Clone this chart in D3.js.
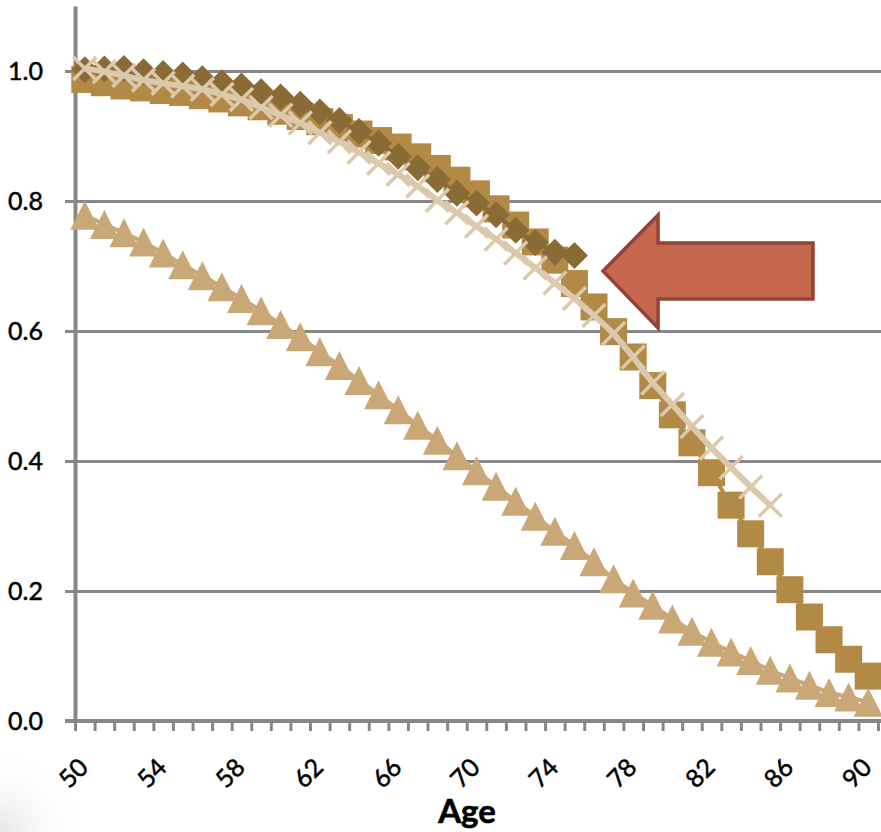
<!DOCTYPE html>
<html><head><meta charset="utf-8">
<script src="https://cdn.jsdelivr.net/npm/d3@7"></script>
<style>
body{margin:0;background:#fff}
svg{display:block}
text{font-family:Lato,"Open Sans",sans-serif}
</style>
</head><body>
<svg id="chart" width="881" height="832"></svg>
<script>
// ---------- data ----------
const ages = [50,51,52,53,54,55,56,57,58,59,60,61,62,63,64,65,66,67,68,69,70,
              71,72,73,74,75,76,77,78,79,80,81,82,83,84,85,86,87,88,89,90];
const squareValues = [0.987,0.982,0.977,0.974,0.970,0.967,0.962,0.957,0.951,0.945,
                      0.938,0.930,0.922,0.913,0.903,0.893,0.883,0.868,0.850,0.832,
                      0.811,0.788,0.763,0.737,0.709,0.673,0.637,0.599,0.560,0.516,
                      0.471,0.428,0.382,0.332,0.288,0.245,0.202,0.160,0.125,0.095,0.069];
const diamondValues = [1.002,1.003,1.004,0.999,0.996,0.994,0.988,0.982,0.977,0.968,
                       0.960,0.949,0.937,0.924,0.907,0.889,0.869,0.851,0.833,0.812,
                       0.797,0.779,0.755,0.736,0.721,0.716];
const crossValues = [1.004,0.999,0.993,0.986,0.981,0.977,0.972,0.964,0.956,0.944,
                     0.932,0.920,0.905,0.891,0.875,0.858,0.841,0.823,0.801,0.782,
                     0.761,0.741,0.720,0.697,0.674,0.650,0.624,0.596,0.560,0.520,
                     0.487,0.453,0.420,0.390,0.360,0.332];
const triangleValues = [0.778,0.764,0.751,0.737,0.720,0.702,0.685,0.668,0.650,0.631,
                        0.610,0.591,0.568,0.547,0.524,0.502,0.479,0.455,0.432,0.408,
                        0.385,0.361,0.338,0.315,0.292,0.270,0.245,0.219,0.197,0.178,
                        0.157,0.138,0.121,0.106,0.093,0.078,0.066,0.055,0.044,0.037,0.029];
const yTicks = [0, 0.2, 0.4, 0.6, 0.8, 1.0];
const xTickLabels = [50,54,58,62,66,70,74,78,82,86,90];
const xAxisTitle = "Age";

// ---------- drawing ----------
const svg = d3.select('#chart');
const W = 881, H = 832;
const x = d3.scaleLinear().domain([49.5, 90.5]).range([75, 878]);
const y = d3.scaleLinear().domain([0, 1.1]).range([721, 6]);
const AXIS = '#878787';

svg.append('rect').attr('width', W).attr('height', H).attr('fill', '#fff');

// faint corner shade
const defs = svg.append('defs');
const rg = defs.append('radialGradient').attr('id','shade').attr('cx',0).attr('cy',1).attr('r',1);
rg.append('stop').attr('offset','0%').attr('stop-color','#e6e6e6');
rg.append('stop').attr('offset','100%').attr('stop-color','#fff').attr('stop-opacity',0);
svg.append('rect').attr('x',0).attr('y',745).attr('width',90).attr('height',87).attr('fill','url(#shade)');

// gridlines
svg.append('g')
  .attr('transform', `translate(${x(49.5)},0)`)
  .call(d3.axisRight(y).tickValues(yTicks.filter(d => d > 0)).tickSize(W - x(49.5)).tickFormat(''))
  .call(g => g.select('.domain').remove())
  .call(g => g.selectAll('line').attr('stroke', AXIS).attr('stroke-width', 3));

// y axis
svg.append('g')
  .attr('transform', `translate(${x(49.5)},0)`)
  .call(d3.axisLeft(y).tickValues(yTicks).tickSize(10).tickSizeOuter(0).tickPadding(22)
        .tickFormat(d3.format('.1f')))
  .call(g => g.select('.domain').attr('stroke', AXIS).attr('stroke-width', 4))
  .call(g => g.selectAll('line').attr('stroke', AXIS).attr('stroke-width', 3))
  .call(g => g.selectAll('text').attr('font-size', 25).attr('fill', '#000')
              .attr('stroke', '#000').attr('stroke-width', 0.5));

// x axis (tick marks between categories)
svg.append('g')
  .attr('transform', `translate(0,${y(0)})`)
  .call(d3.axisBottom(x).tickValues(d3.range(49.5, 90.6, 1)).tickSize(10).tickSizeOuter(0).tickFormat(''))
  .call(g => g.select('.domain').attr('stroke', AXIS).attr('stroke-width', 4).attr('d', `M${x(49.5)-10},0H${W}`))
  .call(g => g.selectAll('line').attr('stroke', AXIS).attr('stroke-width', 3));

// x labels rotated
svg.append('g').selectAll('text').data(xTickLabels).join('text')
  .attr('transform', d => `translate(${x(d) - 2},762) rotate(-45)`)
  .attr('text-anchor', 'end').attr('dominant-baseline', 'central')
  .attr('font-size', 25).attr('fill', '#000').attr('stroke', '#000').attr('stroke-width', 0.5)
  .text(d => d);

svg.append('text').attr('x', 467).attr('y', 823).attr('text-anchor', 'middle')
  .attr('font-size', 33).attr('font-weight', 'bold').attr('fill', '#000')
  .attr('stroke', '#000').attr('stroke-width', 0.6).text(xAxisTitle);

// series
const lineGen = d3.line().x(d => x(d[0])).y(d => y(d[1]));
const sq = d3.zip(ages, squareValues);
const di = d3.zip(ages.slice(0, diamondValues.length), diamondValues);
const cr = d3.zip(ages.slice(0, crossValues.length), crossValues);
const tr = d3.zip(ages, triangleValues);

const squarePath = s => `M${-s},${-s}H${s}V${s}H${-s}Z`;
const diamondPath = s => `M0,${-s}L${s},0L0,${s}L${-s},0Z`;
const trianglePath = s => `M0,${-s}L${s},${s}L${-s},${s}Z`;
const crossPath = s => `M${-s},${-s}L${s},${s}M${-s},${s}L${s},${-s}`;

const C_SQ = '#B38A45', C_DI = '#8B6B35', C_CR = '#DCC8AC', C_TR = '#C9A777';

// squares
svg.append('path').datum(sq).attr('d', lineGen).attr('fill','none').attr('stroke', C_SQ).attr('stroke-width', 4);
svg.append('g').selectAll('path').data(sq).join('path')
  .attr('transform', d => `translate(${x(d[0])},${y(d[1])})`)
  .attr('d', squarePath(13.5)).attr('fill', C_SQ);

// diamonds
svg.append('path').datum(di).attr('d', lineGen).attr('fill','none').attr('stroke', C_DI).attr('stroke-width', 4);
svg.append('g').selectAll('path').data(di).join('path')
  .attr('transform', d => `translate(${x(d[0])},${y(d[1])})`)
  .attr('d', diamondPath(13.5)).attr('fill', C_DI);

// cross line
svg.append('path').datum(cr).attr('d', lineGen).attr('fill','none').attr('stroke', C_CR)
  .attr('stroke-width', 6).attr('stroke-linejoin','round');
svg.append('g').selectAll('path').data(cr).join('path')
  .attr('transform', d => `translate(${x(d[0])},${y(d[1])})`)
  .attr('d', crossPath(11.5)).attr('fill','none').attr('stroke', C_CR).attr('stroke-width', 3.5);

// triangles
svg.append('path').datum(tr).attr('d', lineGen).attr('fill','none').attr('stroke', C_TR).attr('stroke-width', 4);
svg.append('g').selectAll('path').data(tr).join('path')
  .attr('transform', d => `translate(${x(d[0])},${y(d[1])})`)
  .attr('d', trianglePath(14.5)).attr('fill', C_TR);

// annotation arrow (in data coordinates)
const arrow = [[76.46,0.6923],[79.27,0.7785],[79.27,0.7354],[87.18,0.7354],
               [87.18,0.6492],[79.27,0.6492],[79.27,0.6046]];
svg.append('path')
  .attr('d', d3.line().x(d => x(d[0])).y(d => y(d[1]))(arrow) + 'Z')
  .attr('fill', '#C5684E').attr('stroke', '#904434').attr('stroke-width', 3.5).attr('stroke-linejoin','miter');
</script>
</body></html>
